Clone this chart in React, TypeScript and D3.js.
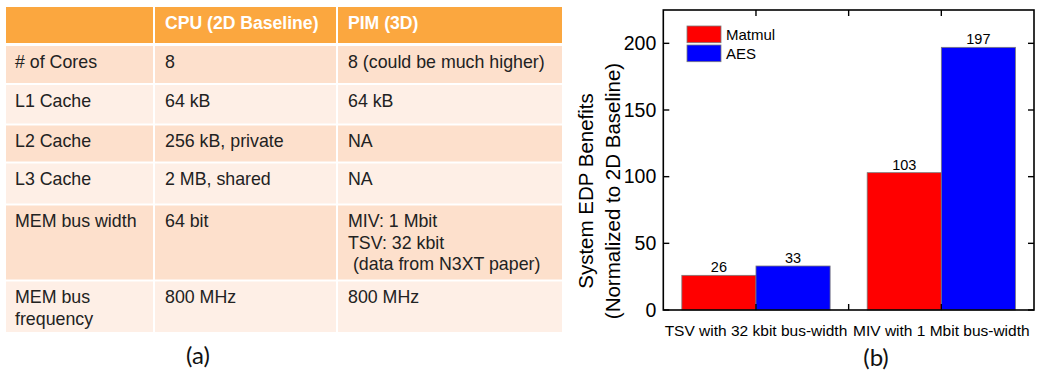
import React from "react";
import * as d3 from "d3";

const width = 1040,
  height = 372;

// table (a)
const tableHeader = ["", "CPU (2D Baseline)", "PIM (3D)"];
const rowNames = ["# of Cores", "L1 Cache", "L2 Cache", "L3 Cache", "MEM bus width", "MEM bus\nfrequency"];
const cpuValues = ["8", "64 kB", "256 kB, private", "2 MB, shared", "64 bit", "800 MHz"];
const pimValues = [
  "8 (could be much higher)",
  "64 kB",
  "NA",
  "NA",
  "MIV: 1 Mbit\nTSV: 32 kbit\n (data from N3XT paper)",
  "800 MHz",
];

// chart (b)
const categories = ["TSV with 32 kbit bus-width", "MIV with 1 Mbit bus-width"];
const seriesNames = ["Matmul", "AES"];
const matmulValues = [26, 103];
const aesValues = [33, 197];
const yTicks = [0, 50, 100, 150, 200];
const colors = ["#ff0000", "#0000ff"];

const sans = "Liberation Sans, Arimo, Arial, Helvetica, sans-serif";
const label = "Lato, Open Sans, sans-serif";

function Table() {
  // column edges and row edges
  const colX = [6, 154, 337, 562];
  const rowY = [7, 45, 84, 124.5, 162.5, 204.5, 280.5, 333];
  const rows = rowNames.map((n, i) => [n, cpuValues[i], pimValues[i]]);
  const bg = (i: number) => (i % 2 === 0 ? "#fde0cc" : "#feefe6");
  return (
    <g style={{ fontFamily: sans }}>
      <rect x={colX[0]} y={rowY[0]} width={colX[3] - colX[0]} height={rowY[1] - rowY[0] - 2} fill="#fba73f" />
      {[1, 2].map(c => (
        <rect key={c} x={colX[c] - 1} y={rowY[0]} width={2} height={rowY[1] - rowY[0]} fill="#fff" />
      ))}
      {tableHeader.map((t, c) => (
        <text key={c} x={colX[c] + 11} y={rowY[0] + 22} fill="#fff" fontWeight="bold" fontSize={17.6}>
          {t}
        </text>
      ))}
      {rows.map((r, i) => {
        const y0 = rowY[i + 1] + 1;
        const y1 = rowY[i + 2] - 1;
        return (
          <g key={i}>
            {r.map((cell, c) => (
              <g key={c}>
                <rect
                  x={colX[c] + (c ? 1 : 0)}
                  y={y0}
                  width={colX[c + 1] - colX[c] - (c ? 1 : 0) - (c < 2 ? 1 : 0)}
                  height={y1 - y0}
                  fill={bg(i)}
                />
                <text x={colX[c] + (c ? 11 : 9)} y={y0 + 21.5} fontSize={17.8} fill="#222">
                  {cell.split("\n").map((line, k) => (
                    <tspan key={k} x={colX[c] + (c ? 11 : 9)} dy={k ? 21.5 : 0} xmlSpace="preserve">
                      {line}
                    </tspan>
                  ))}
                </text>
              </g>
            ))}
          </g>
        );
      })}
      <text x={198} y={364} textAnchor="middle" fontSize={24} style={{ fontFamily: label }} fill="#111">
        (a)
      </text>
    </g>
  );
}

function BarChart() {
  const left = 663.3,
    right = 1034,
    top = 10,
    bottom = 310;
  const x = d3.scaleBand<string>().domain(categories).range([left, right]).paddingInner(0.2).paddingOuter(0.1);
  const xs = d3.scaleBand<string>().domain(seriesNames).range([0, x.bandwidth()]);
  const y = d3.scaleLinear().domain([0, 225]).range([bottom, top]);
  const series = [matmulValues, aesValues];
  const centers = categories.map(c => (x(c) as number) + x.bandwidth() / 2);
  const xTickPos = [centers[0], (centers[0] + centers[1]) / 2, centers[1]];
  const tickLen = 6;

  return (
    <g style={{ fontFamily: sans }}>
      {categories.map((c, ci) =>
        seriesNames.map((s, si) => {
          const v = series[si][ci];
          const bx = (x(c) as number) + (xs(s) as number);
          return (
            <g key={c + s}>
              <rect x={bx} y={y(v)} width={xs.bandwidth()} height={y(0) - y(v)} fill={colors[si]} stroke="#7a7a7a" strokeWidth={0.8} />
              <text x={bx + xs.bandwidth() / 2} y={y(v) - 3} textAnchor="middle" fontSize={14.5} fill="#000">
                {v}
              </text>
            </g>
          );
        })
      )}
      {/* frame */}
      <rect x={left} y={top} width={right - left} height={bottom - top} fill="none" stroke="#000" strokeWidth={1.6} />
      {yTicks.map(t => (
        <g key={t}>
          <line x1={left} x2={left + tickLen} y1={y(t)} y2={y(t)} stroke="#000" strokeWidth={1.4} />
          <line x1={right} x2={right - tickLen} y1={y(t)} y2={y(t)} stroke="#000" strokeWidth={1.4} />
          <text x={left - 7} y={y(t)} dy="0.35em" textAnchor="end" fontSize={19.5} fill="#000">
            {t}
          </text>
        </g>
      ))}
      {xTickPos.map((p, i) => (
        <g key={i}>
          <line x1={p} x2={p} y1={top} y2={top + tickLen} stroke="#000" strokeWidth={1.4} />
          <line x1={p} x2={p} y1={bottom} y2={bottom - tickLen} stroke="#000" strokeWidth={1.4} />
        </g>
      ))}
      {categories.map((c, i) => (
        <text key={c} x={centers[i]} y={336} textAnchor="middle" fontSize={15.5} fill="#000">
          {c}
        </text>
      ))}
      <g transform="translate(598,191) rotate(-90)">
        <text textAnchor="middle" fontSize={20.5} fill="#000">
          <tspan x={0} y={-5.5}>System EDP Benefits</tspan>
          <tspan x={0} y={21.5}>(Normalized to 2D Baseline)</tspan>
        </text>
      </g>
      {/* legend */}
      {seriesNames.map((s, i) => (
        <g key={s} transform={`translate(687,${26 + i * 19})`}>
          <rect width={34} height={16.7} fill={colors[i]} stroke="#7a7a7a" strokeWidth={0.8} />
          <text x={39} y={8.5} dy="0.35em" fontSize={15} fill="#000">
            {s}
          </text>
        </g>
      ))}
      <text x={876} y={366} textAnchor="middle" fontSize={24} style={{ fontFamily: label }} fill="#111">
        (b)
      </text>
    </g>
  );
}

export default function App() {
  return (
    <svg width={width} height={height} style={{ position: "absolute", left: 0, top: 0, background: "#fff" }}>
      <rect width={width} height={height} fill="#fff" />
      <Table />
      <BarChart />
    </svg>
  );
}
